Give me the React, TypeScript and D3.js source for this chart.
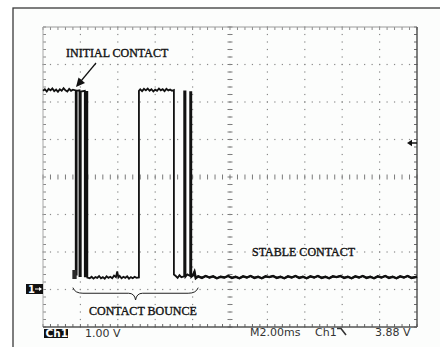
import React from "react";
import * as d3 from "d3";

// ---- data (time in ms, level in volts) ----
const firstHigh: [number, number][] = [
  [0, 5.3], [0.1, 5.34], [0.2, 5.28], [0.3, 5.35], [0.4, 5.31], [0.5, 5.36], [0.6, 5.29],
  [0.7, 5.33], [0.8, 5.27], [0.9, 5.34], [1.0, 5.3], [1.1, 5.37], [1.2, 5.31], [1.3, 5.28],
  [1.4, 5.35], [1.5, 5.3], [1.6, 5.33], [1.75, 5.31],
];
const firstBounce: [number, number][] = [
  [1.75, 0.4], [1.8, 0.4], [1.8, 5.3], [1.95, 5.31], [1.95, 0.36], [2.02, 0.36], [2.02, 5.28],
  [2.235, 5.3], [2.235, 0.35], [2.28, 0.35], [2.28, 5.27], [2.37, 5.27], [2.37, 0.32],
];
const firstLow: [number, number][] = [
  [2.5, 0.3], [2.6, 0.34], [2.7, 0.29], [2.8, 0.33], [2.9, 0.31], [3.0, 0.36], [3.1, 0.3],
  [3.2, 0.33], [3.3, 0.29], [3.4, 0.35], [3.5, 0.31], [3.6, 0.34], [3.7, 0.3], [3.8, 0.37],
  [3.9, 0.33], [3.97, 0.48], [4.03, 0.32], [4.1, 0.36], [4.2, 0.3], [4.3, 0.34], [4.4, 0.31],
  [4.5, 0.35], [4.6, 0.29], [4.7, 0.33], [4.8, 0.3], [4.9, 0.34], [5.0, 0.31], [5.13, 0.32],
];
const secondHigh: [number, number][] = [
  [5.13, 5.3], [5.2, 5.34], [5.3, 5.29], [5.4, 5.35], [5.5, 5.31], [5.6, 5.36], [5.7, 5.3],
  [5.8, 5.34], [5.9, 5.28], [6.0, 5.33], [6.1, 5.3], [6.2, 5.36], [6.3, 5.31], [6.4, 5.34],
  [6.5, 5.29], [6.6, 5.35], [6.7, 5.31], [6.8, 5.33], [6.9, 5.3], [7.0, 5.32],
];
const secondBounce: [number, number][] = [
  [7.0, 0.4], [7.1, 0.36], [7.2, 0.31], [7.3, 0.38], [7.4, 0.33], [7.55, 0.35], [7.55, 5.28],
  [7.62, 5.28], [7.62, 0.34], [7.72, 0.4], [7.87, 0.36], [7.87, 5.26], [7.93, 5.26], [7.93, 0.33],
];
const stableLow: [number, number][] = [
  [8.0, 0.36], [8.1, 0.47], [8.17, 0.3], [8.3, 0.35], [8.5, 0.31], [8.7, 0.36], [8.9, 0.32],
  [9.1, 0.35], [9.3, 0.3], [9.5, 0.34], [9.7, 0.32], [9.9, 0.36], [10.1, 0.31], [10.3, 0.34],
  [10.5, 0.3], [10.7, 0.35], [10.9, 0.32], [11.1, 0.36], [11.3, 0.31], [11.5, 0.34],
  [11.7, 0.3], [11.9, 0.35], [12.1, 0.33], [12.3, 0.36], [12.5, 0.31], [12.7, 0.34],
  [12.9, 0.3], [13.1, 0.35], [13.3, 0.32], [13.5, 0.36], [13.7, 0.31], [13.9, 0.34],
  [14.1, 0.3], [14.3, 0.35], [14.5, 0.32], [14.7, 0.36], [14.9, 0.31], [15.1, 0.34],
  [15.3, 0.3], [15.5, 0.35], [15.7, 0.33], [15.9, 0.36], [16.1, 0.31], [16.3, 0.34],
  [16.5, 0.3], [16.7, 0.35], [16.9, 0.32], [17.1, 0.36], [17.3, 0.31], [17.5, 0.34],
  [17.7, 0.3], [17.9, 0.35], [18.1, 0.32], [18.3, 0.36], [18.5, 0.31], [18.7, 0.34],
  [18.9, 0.3], [19.1, 0.35], [19.3, 0.32], [19.5, 0.36], [19.7, 0.31], [20.0, 0.34],
];
const waveform = [
  ...firstHigh, ...firstBounce, ...firstLow, ...secondHigh, ...secondBounce, ...stableLow,
];

const statusLeft = ["Ch1", "1.00 V"];
const statusRight = ["M2.00ms", "Ch1", "3.88 V"];
const annotations = ["INITIAL CONTACT", "CONTACT BOUNCE", "STABLE CONTACT"];

// ---- layout ----
const W = 440;
const H = 347;
const L = 43, R = 417, T = 27, B = 327;
const x = d3.scaleLinear().domain([0, 20]).range([L, R]);
const y = d3.scaleLinear().domain([-1, 7]).range([B, T]);

const majorT = d3.range(0, 20.001, 2);
const majorV = d3.range(-1, 7.001, 1);
const minorT = d3.range(0, 20.001, 0.4);
const minorV = d3.range(-1, 7.001, 0.2);

export default function App() {
  const line = d3
    .line<[number, number]>()
    .x((d) => x(d[0]))
    .y((d) => y(d[1]));

  const cx = x(10);
  const cy = y(3);
  const gridCol = "#8a8a8a";

  // brace path for "CONTACT BOUNCE"
  const bx0 = x(1.6), bx1 = x(8.3), bmid = (bx0 + bx1) / 2;
  const by0 = y(0.05), by1 = y(-0.1), bcusp = y(-0.28);
  const brace = `M${bx0},${by0} Q${bx0 + 2},${by1} ${bx0 + 10},${by1} L${bmid - 7},${by1} Q${bmid - 1},${by1} ${bmid},${bcusp} Q${bmid + 1},${by1} ${bmid + 7},${by1} L${bx1 - 10},${by1} Q${bx1 - 2},${by1} ${bx1},${by0}`;

  const monoFont = "'DejaVu Sans', sans-serif";
  const serifFont = "'Liberation Serif', 'Times New Roman', serif";
  const serifProps = {
    fontFamily: serifFont,
    fontSize: 12,
    fill: "#111",
    stroke: "#111",
    strokeWidth: 0.35,
  };

  return (
    <svg width={W} height={H} style={{ position: "absolute", left: 0, top: 0, background: "#ffffff" }}>
      {/* outer frame */}
      <rect x={13} y={8} width={W} height={H} fill="#fcfdfc" stroke="#3a3a3a" strokeWidth={1.3} />

      {/* grid dots */}
      {majorT.filter((t) => t > 0 && t < 20 && t !== 10).map((t) =>
        minorV.map((v) => (
          <rect key={`vd${t}-${v}`} x={x(t) - 0.6} y={y(v) - 0.6} width={1.2} height={1.2} fill={gridCol} />
        ))
      )}
      {majorV.filter((v) => v > -1 && v < 7 && v !== 3).map((v) =>
        minorT.map((t) => (
          <rect key={`hd${v}-${t}`} x={x(t) - 0.6} y={y(v) - 0.6} width={1.2} height={1.2} fill={gridCol} />
        ))
      )}
      {/* center axes with ticks */}
      {minorV.map((v) => (
        <line key={`cvt${v}`} x1={cx - 2.5} x2={cx + 2.5} y1={y(v)} y2={y(v)} stroke="#7a7a7a" strokeWidth={1} />
      ))}
      {minorT.map((t) => (
        <line key={`cht${t}`} x1={x(t)} x2={x(t)} y1={cy - 2.5} y2={cy + 2.5} stroke="#7a7a7a" strokeWidth={1} />
      ))}
      {minorV.map((v) => (
        <rect key={`cvd${v}`} x={cx - 0.6} y={y(v) - 0.6} width={1.2} height={1.2} fill={gridCol} />
      ))}
      {/* border ticks */}
      {minorT.map((t) => (
        <g key={`bt${t}`}>
          <line x1={x(t)} x2={x(t)} y1={T} y2={T + 3} stroke="#8a8a8a" />
          <line x1={x(t)} x2={x(t)} y1={B} y2={B - 3} stroke="#6a6a6a" />
        </g>
      ))}
      {minorV.map((v) => (
        <g key={`bv${v}`}>
          <line x1={L} x2={L + 3} y1={y(v)} y2={y(v)} stroke="#8a8a8a" />
          <line x1={R} x2={R - 3} y1={y(v)} y2={y(v)} stroke="#6a6a6a" />
        </g>
      ))}
      {/* plot border */}
      <line x1={L} x2={R} y1={T} y2={T} stroke="#9a9a9a" strokeWidth={1} />
      <line x1={L} x2={L} y1={T} y2={B} stroke="#a8a8a8" strokeWidth={1} />
      <line x1={R} x2={R} y1={T} y2={B} stroke="#555" strokeWidth={1.5} />
      <line x1={L} x2={R} y1={B} y2={B} stroke="#555" strokeWidth={1.5} />

      {/* waveform */}
      <path d={line(waveform) || ""} fill="none" stroke="#111" strokeWidth={1.8} strokeLinejoin="miter" />
      <path d={line(stableLow) || ""} fill="none" stroke="#111" strokeWidth={2.4} />
      <rect x={x(1.57)} y={y(0.52)} width={x(1.8) - x(1.57)} height={y(0.28) - y(0.52)} fill="#2a2a2a" />

      {/* annotations */}
      <text x={66} y={57} {...serifProps}>{annotations[0]}</text>
      <line x1={96} y1={63} x2={81} y2={81} stroke="#111" strokeWidth={1.2} />
      <path d="M76,87 L78.5,77.5 L85,83 Z" fill="#111" />
      <path d={brace} fill="none" stroke="#222" strokeWidth={1} />
      <text x={89} y={315} {...serifProps}>{annotations[1]}</text>
      <text x={252} y={256} {...serifProps}>{annotations[2]}</text>

      {/* ground marker */}
      <rect x={26} y={284} width={17} height={10} fill="#111" />
      <text x={28} y={292.5} fontFamily={monoFont} fontSize={10} fontWeight="bold" fill="#fff">1</text>
      <line x1={35} x2={41} y1={289} y2={289} stroke="#fff" strokeWidth={1} />
      <path d="M42,289 L39,287 L39,291 Z" fill="#fff" />

      {/* trigger level marker */}
      <path d="M407,143 L412,139.8 L412,146.2 Z" fill="#111" />
      <line x1={411} x2={417} y1={143} y2={143} stroke="#111" strokeWidth={1.5} />

      {/* status bar */}
      <rect x={44} y={329} width={24} height={9} fill="#111" />
      <text x={45.5} y={337.3} fontFamily={monoFont} fontSize={10.5} fontWeight="bold" fill="#fff">{statusLeft[0]}</text>
      <text x={85} y={337} fontFamily={monoFont} fontSize={11} fill="#333">{statusLeft[1]}</text>
      <text x={250} y={336} fontFamily={monoFont} fontSize={11} fill="#333">{statusRight[0]}</text>
      <text x={315} y={336} fontFamily={monoFont} fontSize={11} fill="#333">{statusRight[1]}</text>
      <path d="M337,328.5 L341,328.5 L346,335" fill="none" stroke="#333" strokeWidth={1.6} />
      <text x={375} y={336} fontFamily={monoFont} fontSize={11} fill="#333">{statusRight[2]}</text>
    </svg>
  );
}
